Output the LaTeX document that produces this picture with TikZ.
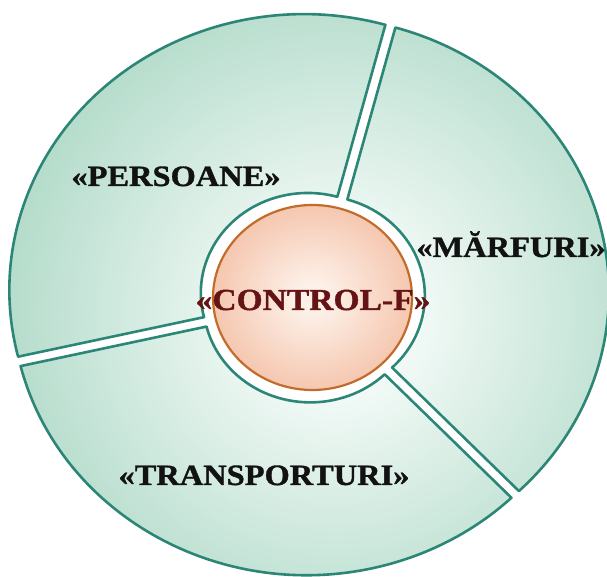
\documentclass[tikz,border=0pt]{standalone}
\usepackage{fontspec}
\newfontfamily\labfont[FakeStretch=1.1,FakeBold=1.2]{Liberation Serif}
\usetikzlibrary{calc}
\definecolor{teal1}{RGB}{44,134,118}
\definecolor{gin}{RGB}{243,250,247}
\definecolor{gout}{RGB}{116,189,158}
\definecolor{oin}{RGB}{253,240,232}
\definecolor{oout}{RGB}{236,150,108}
\definecolor{obord}{RGB}{194,108,44}
\definecolor{ctext}{RGB}{100,20,20}
\definecolor{ltext}{RGB}{18,18,18}
\pgfdeclareradialshading{ringshade}{\pgfpointorigin}{color(0bp)=(gin); color(5bp)=(gin); color(39bp)=(gout); color(50bp)=(gout)}
\pgfdeclareradialshading{coreshade}{\pgfpointorigin}{color(0bp)=(oin); color(4bp)=(oin); color(50bp)=(oout)}
\begin{document}
\begin{tikzpicture}[x=1pt,y=1pt,
  sec/.style 2 args={insert path={
    ($(O1)+({(#1+#2)/2}:6pt and 5.6pt)+(#1:294.8pt and 275.8pt)$)
    arc[start angle=#1, end angle=#2, x radius=294.8pt, y radius=275.8pt]
    -- ($(O2)+({(#1+#2)/2}:6pt and 5.6pt)+(#2:107pt and 100pt)$)
    arc[start angle=#2, end angle=#1, x radius=107pt, y radius=100pt]
    -- cycle}},
  lab/.style={font=\labfont\bfseries\fontsize{29.5}{32}\selectfont, text=ltext, inner sep=0pt, anchor=base},
  border/.style={draw=teal1, line width=2.6pt, line join=round}
]
\useasboundingbox (0,0) rectangle (607,577);
\fill[white] (0,0) rectangle (607,577);
\coordinate (O1) at (308.3,283);
\coordinate (O2) at (312,280);
\coordinate (OC) at (312.5,279.5);
\begin{scope}
  \clip [sec={74}{194}] [sec={194}{314}] [sec={314}{434}];
  \shade[shading=ringshade] (335,262) circle[radius=380pt];
\end{scope}
\path[border] [sec={74}{194}];
\path[border] [sec={194}{314}];
\path[border] [sec={314}{434}];
\shade[shading=coreshade] (OC) ellipse[x radius=99.5pt, y radius=92.5pt];
\draw[obord, line width=2.2pt] (OC) ellipse[x radius=99.5pt, y radius=92.5pt];
\node[lab] (pers) at (176,391) {«PERSOANE»};
\node[lab] (marf) at (511,320) {«MĂRFURI»};
\node[lab] (trans) at (264,92) {«TRANSPORTURI»};
\node[lab, text=ctext, font=\labfont\bfseries\fontsize{30.5}{33}\selectfont] (ctrl) at (313,267) {«CONTROL-F»};
\end{tikzpicture}
\end{document}
